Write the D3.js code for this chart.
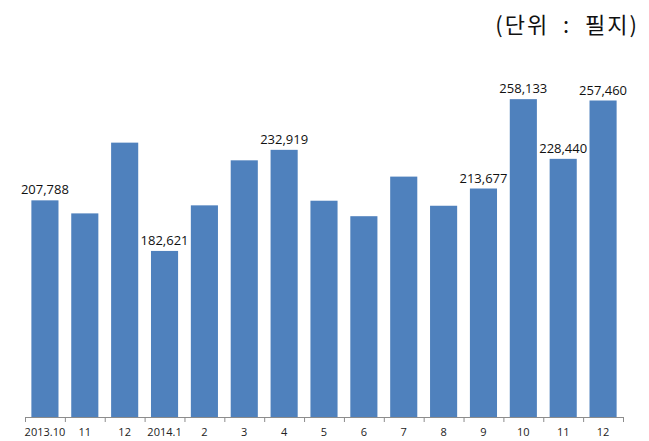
<!DOCTYPE html>
<html>
<head>
<meta charset="utf-8">
<script src="https://cdn.jsdelivr.net/npm/d3@7"></script>
<style>
  body { margin: 0; background: #fff; }
  svg { display: block; }
</style>
</head>
<body>
<script>
// ----- DATA -----
const categories = ["2013.10", "11", "12", "2014.1", "2", "3", "4", "5", "6", "7", "8", "9", "10", "11", "12"];
const values = [207788, 201300, 236500, 182621, 205300, 227700, 232919, 207600, 199900, 219600, 205100, 213677, 258133, 228440, 257460];
// only some bars carry a label in the original
const labelled = [true, false, false, true, false, false, true, false, false, false, false, true, true, true, true];
const unitText = "(단위  :  필지)";

const w = 649, h = 441;
const plotLeft = 25, plotRight = 623, plotBottom = 417, plotTop = 15;

const svg = d3.select("body").append("svg")
  .attr("width", w)
  .attr("height", h);

// ----- SCALES -----
const keys = categories.map((c, i) => i);
const xScale = d3.scaleBand().domain(keys).range([plotLeft, plotRight]).paddingInner(0.32).paddingOuter(0.16);
const yScale = d3.scaleLinear().domain([100000, 300000]).range([plotBottom, plotTop]);

// ----- BARS -----
svg.selectAll("rect.bar")
  .data(values)
  .enter().append("rect")
  .attr("class", "bar")
  .attr("x", (d, i) => xScale(i))
  .attr("y", d => yScale(d))
  .attr("width", xScale.bandwidth())
  .attr("height", d => plotBottom - yScale(d))
  .attr("fill", "#4f81bd");

// ----- VALUE LABELS -----
svg.selectAll("text.val")
  .data(values.map((v, i) => ({ v, i })).filter(d => labelled[d.i]))
  .enter().append("text")
  .attr("class", "val")
  .attr("x", d => xScale(d.i) + xScale.bandwidth() / 2)
  .attr("y", d => yScale(d.v) - 6)
  .attr("text-anchor", "middle")
  .style("font-family", "'Open Sans', 'Liberation Sans', sans-serif")
  .style("font-size", "13px")
  .attr("fill", "#111")
  .text(d => d3.format(",")(d.v));

// ----- X AXIS -----
const axisG = svg.append("g").attr("id", "x-axis");
axisG.append("line")
  .attr("x1", plotLeft).attr("x2", plotRight)
  .attr("y1", plotBottom + 0.5).attr("y2", plotBottom + 0.5)
  .attr("stroke", "#8c8c8c");
axisG.selectAll("line.tick")
  .data(d3.range(categories.length + 1))
  .enter().append("line")
  .attr("class", "tick")
  .attr("x1", i => plotLeft + i * xScale.step() + 0.5)
  .attr("x2", i => plotLeft + i * xScale.step() + 0.5)
  .attr("y1", plotBottom)
  .attr("y2", plotBottom + 5)
  .attr("stroke", "#8c8c8c");
axisG.selectAll("text")
  .data(categories)
  .enter().append("text")
  .attr("x", (d, i) => xScale(i) + xScale.bandwidth() / 2)
  .attr("y", 436)
  .attr("text-anchor", "middle")
  .style("font-family", "'Open Sans', 'Liberation Sans', sans-serif")
  .style("font-size", "11px")
  .attr("fill", "#222")
  .text(d => d);

// ----- UNIT -----
svg.append("text")
  .attr("x", 639)
  .attr("y", 33)
  .attr("text-anchor", "end")
  .style("font-family", "'Noto Sans CJK KR', sans-serif")
  .style("font-size", "22px")
  .style("letter-spacing", "2px")
  .style("white-space", "pre")
  .attr("fill", "#111")
  .text(unitText);
</script>
</body>
</html>
